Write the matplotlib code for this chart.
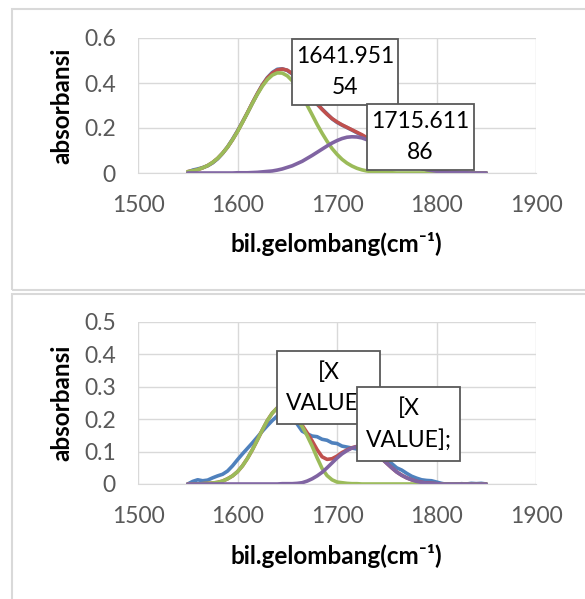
import numpy as np
import matplotlib
matplotlib.use("Agg")
import matplotlib.pyplot as plt
from matplotlib.patches import Rectangle

plt.rcParams['font.family'] = ['Lato', 'DejaVu Sans']

# wavenumber grid (cm-1), 1550 .. 1850 every 5
wavenumber = np.arange(1550, 1851, 5)

# ---- top chart: data, fitted sum, two gaussian bands ----
top_data = [0.004, 0.013, 0.018, 0.024, 0.032, 0.045, 0.063, 0.087, 0.116, 0.150,
            0.187, 0.227, 0.268, 0.311, 0.353, 0.392, 0.424, 0.447, 0.461, 0.463,
            0.456, 0.440, 0.420, 0.396, 0.368, 0.337, 0.306, 0.284, 0.263, 0.241,
            0.225, 0.213, 0.202, 0.191, 0.179, 0.167, 0.155, 0.142, 0.128, 0.113,
            0.098, 0.082, 0.068, 0.055, 0.044, 0.034, 0.026, 0.020, 0.014, 0.009,
            0.005, 0.002, -0.001, -0.003, -0.004, -0.003, -0.001, 0.000, 0.001, 0.000,
            0.000]
top_sum = [0.006, 0.010, 0.015, 0.023, 0.033, 0.047, 0.065, 0.088, 0.115, 0.148,
           0.185, 0.226, 0.268, 0.312, 0.353, 0.391, 0.422, 0.444, 0.458, 0.462,
           0.457, 0.442, 0.421, 0.394, 0.366, 0.337, 0.308, 0.283, 0.261, 0.242,
           0.227, 0.214, 0.203, 0.192, 0.181, 0.170, 0.157, 0.144, 0.130, 0.114,
           0.099, 0.084, 0.070, 0.057, 0.046, 0.036, 0.027, 0.021, 0.015, 0.011,
           0.008, 0.005, 0.004, 0.002, 0.002, 0.001, 0.001, 0, 0, 0,
           0]
top_band1 = [0.006, 0.010, 0.015, 0.023, 0.033, 0.047, 0.065, 0.088, 0.115, 0.148,
             0.184, 0.225, 0.267, 0.310, 0.350, 0.386, 0.415, 0.435, 0.445, 0.444,
             0.432, 0.410, 0.379, 0.342, 0.301, 0.259, 0.216, 0.177, 0.141, 0.109,
             0.083, 0.061, 0.044, 0.031, 0.021, 0.014, 0.009, 0.006, 0.004, 0.002,
             0.001, 0.001, 0, 0, 0, 0, 0, 0, 0, 0,
             0, 0, 0, 0, 0, 0, 0, 0, 0, 0,
             0]
top_band2 = [0, 0, 0, 0, 0, 0, 0, 0, 0, 0,
             0.001, 0.001, 0.001, 0.002, 0.003, 0.005, 0.007, 0.009, 0.013, 0.018,
             0.025, 0.032, 0.042, 0.052, 0.065, 0.078, 0.092, 0.106, 0.120, 0.133,
             0.144, 0.153, 0.159, 0.161, 0.160, 0.156, 0.148, 0.138, 0.126, 0.112,
             0.098, 0.083, 0.070, 0.057, 0.046, 0.036, 0.027, 0.021, 0.015, 0.011,
             0.008, 0.005, 0.004, 0.002, 0.002, 0.001, 0.001, 0, 0, 0,
             0]
top_labels = ["1641.951\n54", "1715.611\n86"]

# ---- bottom chart ----
bot_data = [0.000, 0.008, 0.013, 0.010, 0.012, 0.019, 0.025, 0.030, 0.040, 0.056,
            0.075, 0.093, 0.110, 0.127, 0.145, 0.163, 0.180, 0.196, 0.210, 0.218,
            0.215, 0.205, 0.185, 0.163, 0.155, 0.148, 0.146, 0.138, 0.135, 0.127,
            0.125, 0.117, 0.114, 0.111, 0.108, 0.105, 0.100, 0.095, 0.089, 0.083,
            0.074, 0.063, 0.050, 0.043, 0.033, 0.024, 0.018, 0.013, 0.011, 0.010,
            0.006, 0.002, -0.001, -0.003, -0.002, 0.001, 0.000, 0.002, 0.001, 0.002,
            0.000]
bot_sum = [0, 0, 0, 0.001, 0.002, 0.003, 0.005, 0.009, 0.016, 0.025,
           0.038, 0.056, 0.079, 0.106, 0.136, 0.167, 0.196, 0.219, 0.235, 0.241,
           0.236, 0.221, 0.201, 0.181, 0.158, 0.133, 0.106, 0.084, 0.076, 0.078,
           0.086, 0.097, 0.105, 0.112, 0.116, 0.115, 0.111, 0.103, 0.092, 0.078,
           0.064, 0.050, 0.037, 0.027, 0.019, 0.013, 0.008, 0.005, 0.003, 0.002,
           0.001, 0, 0, 0, 0, 0, 0, 0, 0, 0,
           0]
bot_band1 = [0, 0, 0, 0.001, 0.002, 0.003, 0.005, 0.009, 0.016, 0.025,
             0.038, 0.056, 0.079, 0.106, 0.136, 0.167, 0.196, 0.219, 0.235, 0.240,
             0.235, 0.220, 0.199, 0.177, 0.149, 0.117, 0.081, 0.048, 0.026, 0.013,
             0.006, 0.004, 0.002, 0.001, 0.001, 0, 0, 0, 0, 0,
             0, 0, 0, 0, 0, 0, 0, 0, 0, 0,
             0, 0, 0, 0, 0, 0, 0, 0, 0, 0,
             0]
bot_band2 = [0, 0, 0, 0, 0, 0, 0, 0, 0, 0,
             0, 0, 0, 0, 0, 0, 0, 0, 0, 0.001,
             0.001, 0.001, 0.002, 0.004, 0.009, 0.016, 0.025, 0.036, 0.050, 0.065,
             0.080, 0.093, 0.103, 0.111, 0.115, 0.115, 0.111, 0.103, 0.092, 0.078,
             0.064, 0.050, 0.037, 0.027, 0.019, 0.013, 0.008, 0.005, 0.003, 0.002,
             0.001, 0, 0, 0, 0, 0, 0, 0, 0, 0,
             0]
bot_labels = ["[X\nVALUE];", "[X\nVALUE];"]

x_ticks = [1500, 1600, 1700, 1800, 1900]
top_yticks = [0, 0.2, 0.4, 0.6]
top_yticklabels = ["0", "0.2", "0.4", "0.6"]
bot_yticks = [0, 0.1, 0.2, 0.3, 0.4, 0.5]
bot_yticklabels = ["0", "0.1", "0.2", "0.3", "0.4", "0.5"]

colors = ["#4F81BD", "#C0504D", "#9BBB59", "#8064A2"]
W, H = 585, 599


def fx(px):
    return px / W


def fy(py):
    return 1 - py / H


fig = plt.figure(figsize=(W / 100, H / 100), dpi=100)

# panel frames
for top, bottom in [(9, 290), (294, 640)]:
    fig.add_artist(Rectangle((fx(12), fy(bottom)), fx(640) - fx(12), fy(top) - fy(bottom),
                             transform=fig.transFigure, fill=False,
                             edgecolor="#D9D9D9", linewidth=1.5))


def draw_chart(rect, series, yticks, yticklabels, ymax, labels, boxes, ylab_y, xlab_y):
    ax = fig.add_axes(rect)
    for vals, c in zip(series, colors):
        ax.plot(wavenumber, vals, color=c, linewidth=2.6, solid_capstyle="round")
    ax.set_xlim(1500, 1900)
    ax.set_ylim(0, ymax)
    ax.set_xticks(x_ticks)
    ax.set_xticklabels([str(t) for t in x_ticks])
    ax.set_yticks(yticks)
    ax.set_yticklabels(yticklabels)
    ax.grid(True, color="#D9D9D9", linewidth=1.0)
    ax.set_axisbelow(True)
    for s in ["top", "right", "left"]:
        ax.spines[s].set_visible(False)
    ax.spines["bottom"].set_color("#D9D9D9")
    ax.tick_params(length=0, labelsize=16.5, labelcolor="#595959")
    ax.tick_params(axis="x", pad=16)
    ax.tick_params(axis="y", pad=16)

    fig.text(fx(62), fy(ylab_y), "absorbansi", rotation=90, ha="center", va="center",
             fontsize=17.5, fontweight="bold", color="black")
    fig.text(fx(336), fy(xlab_y), "bil.gelombang(cm⁻¹)", ha="center",
             va="center", fontsize=17.5, fontweight="bold", color="black")

    # data label boxes
    for i, (lab, (x0, y0, x1, y1)) in enumerate(zip(labels, boxes)):
        fig.add_artist(Rectangle((fx(x0), fy(y1)), fx(x1) - fx(x0), fy(y0) - fy(y1),
                                 transform=fig.transFigure, facecolor="white",
                                 edgecolor="#595959", linewidth=1.3, zorder=5 + 2 * i))
        fig.text(fx((x0 + x1) / 2), fy((y0 + y1) / 2), lab, ha="center", va="center",
                 fontsize=16.5, color="black", linespacing=1.55, zorder=6 + 2 * i)
    return ax


draw_chart([fx(138), fy(173), fx(536) - fx(138), fy(38) - fy(173)],
           [top_data, top_sum, top_band1, top_band2], top_yticks, top_yticklabels, 0.6,
           top_labels, [(292, 39, 398, 105), (367, 104, 474, 170)], 106, 244)

draw_chart([fx(138), fy(484), fx(536) - fx(138), fy(322) - fy(484)],
           [bot_data, bot_sum, bot_band1, bot_band2], bot_yticks, bot_yticklabels, 0.5,
           bot_labels, [(277, 351, 380, 424), (357, 387, 460, 461)], 403, 556)

fig.savefig("out.png", dpi=100)
